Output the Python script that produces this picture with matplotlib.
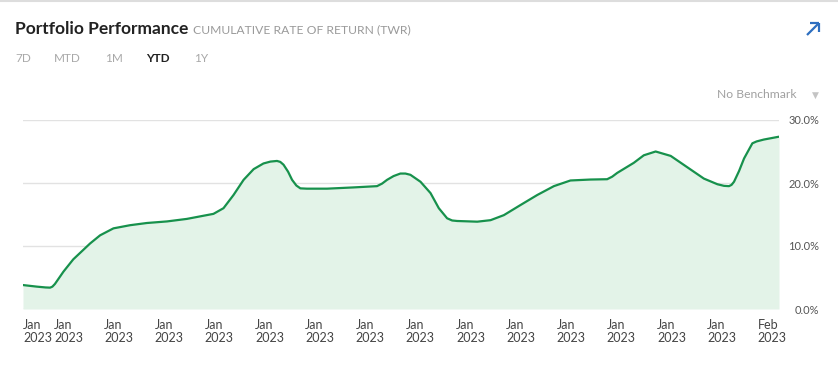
import matplotlib.pyplot as plt

plt.rcParams['font.family'] = ['Lato', 'DejaVu Sans']

# days since the start of the period and cumulative return (%)
days = [0.0, 0.55, 0.9, 1.08, 1.17, 1.27, 1.61, 2.0, 2.67, 3.07, 3.6, 4.26,
        4.93, 5.73, 6.52, 7.18, 7.58, 7.98, 8.38, 8.78, 9.18, 9.57, 9.85,
        10.11, 10.24, 10.37, 10.55, 10.71, 10.88, 11.04, 11.3, 12.1, 13.16,
        14.09, 14.29, 14.49, 14.75, 15.02, 15.22, 15.42, 15.82, 16.22, 16.55,
        16.88, 17.08, 17.28, 18.08, 18.61, 19.14, 19.8, 20.47, 21.13, 21.79,
        22.59, 23.25, 23.45, 23.65, 24.31, 24.71, 25.18, 25.78, 26.44, 27.1,
        27.64, 27.9, 28.1, 28.2, 28.3, 28.5, 28.7, 29.03, 29.2, 29.49, 30.09]
twr = [3.8, 3.55, 3.42, 3.39, 3.55, 3.97, 5.93, 7.88, 10.4, 11.7, 12.8, 13.3,
       13.65, 13.9, 14.3, 14.8, 15.1, 16.0, 18.1, 20.5, 22.2, 23.1, 23.4,
       23.5, 23.35, 22.9, 21.8, 20.5, 19.6, 19.15, 19.1, 19.1, 19.3,
       19.5, 19.9, 20.5, 21.1, 21.5, 21.5, 21.3, 20.2, 18.4, 16.0,
       14.4, 14.05, 13.97, 13.86, 14.1, 14.9, 16.5, 18.1, 19.5, 20.4,
       20.55, 20.6, 21.0, 21.6, 23.2, 24.4, 25.0, 24.3, 22.5, 20.7,
       19.8, 19.55, 19.5, 19.7, 20.2, 21.9, 23.9, 26.3, 26.6, 26.9, 27.35]

tick_days = [0, 1.81, 3.81, 5.81, 7.81, 9.81, 11.81, 13.81, 15.81, 17.81,
             19.81, 21.81, 23.81, 25.81, 27.81, 29.81]
tick_labels = ['Jan\n2023'] * 15 + ['Feb\n2023']
y_ticks = [0, 10, 20, 30]
y_labels = ['0.0%', '10.0%', '20.0%', '30.0%']
periods = ['7D', 'MTD', '1M', 'YTD', '1Y']
period_x = [15, 54, 105, 146, 194]

W, H = 838, 381
fig = plt.figure(figsize=(W / 100, H / 100), dpi=100)
ax = fig.add_axes([23 / W, 72 / H, 756 / W, 189 / H])

line_color = '#17914c'
ax.fill_between(days, twr, 0, color='#e3f3e8', lw=0)
ax.plot(days, twr, color=line_color, lw=1.6, solid_capstyle='round',
        solid_joinstyle='round')

ax.set_xlim(0, 30.09)
ax.set_ylim(0, 30)
for s in ax.spines.values():
    s.set_visible(False)
ax.set_yticks(y_ticks)
ax.set_yticklabels(y_labels)
ax.yaxis.tick_right()
ax.tick_params(axis='y', length=0, pad=28.8, labelsize=8, labelcolor='#555555')
for lbl in ax.get_yticklabels():
    lbl.set_horizontalalignment('right')
ax.grid(axis='y', color='#e2e2e2', lw=1)
ax.set_axisbelow(True)

ax.set_xticks(tick_days)
ax.set_xticklabels(tick_labels)
ax.tick_params(axis='x', length=0, pad=7, labelsize=9, labelcolor='#444444')
for i, lbl in enumerate(ax.get_xticklabels()):
    lbl.set_multialignment('left')
    lbl.set_linespacing(1.15)
    if i == 0:
        lbl.set_horizontalalignment('left')


def px(x, y):
    return x / W, 1 - y / H


# header
fig.add_artist(plt.Line2D([0, 1], [1 - 1 / H, 1 - 1 / H], color='#dddddd', lw=1.5))
fig.text(*px(15, 29), 'Portfolio Performance', fontsize=12.5, fontweight='bold',
         color='#222222', va='center', ha='left')
fig.text(*px(193, 30), 'CUMULATIVE RATE OF RETURN (TWR)', fontsize=8.7,
         color='#9a9a9a', va='center', ha='left')
for name, x in zip(periods, period_x):
    fig.text(*px(x, 59), name, fontsize=8.5, va='center', ha='left',
             color='#222222' if name == 'YTD' else '#a8a8a8',
             fontweight='bold' if name == 'YTD' else 'normal')
fig.text(*px(797, 95), 'No Benchmark', fontsize=8.7, color='#a0a0a0',
         va='center', ha='right')
fig.text(*px(815, 95), '\u25bc', fontsize=6.5, color='#c4c4c4',
         va='center', ha='center', family='DejaVu Sans')

# expand arrow, top right
arrow_blue = '#2e6fc0'
for (x0, y0), (x1, y1) in [((807, 35), (819, 23)), ((810, 23), (819, 23)),
                           ((819, 23), (819, 32))]:
    fig.add_artist(plt.Line2D([x0 / W, x1 / W], [1 - y0 / H, 1 - y1 / H],
                              color=arrow_blue, lw=1.6, solid_capstyle='butt'))

fig.savefig('out.png', dpi=100, facecolor='white')
